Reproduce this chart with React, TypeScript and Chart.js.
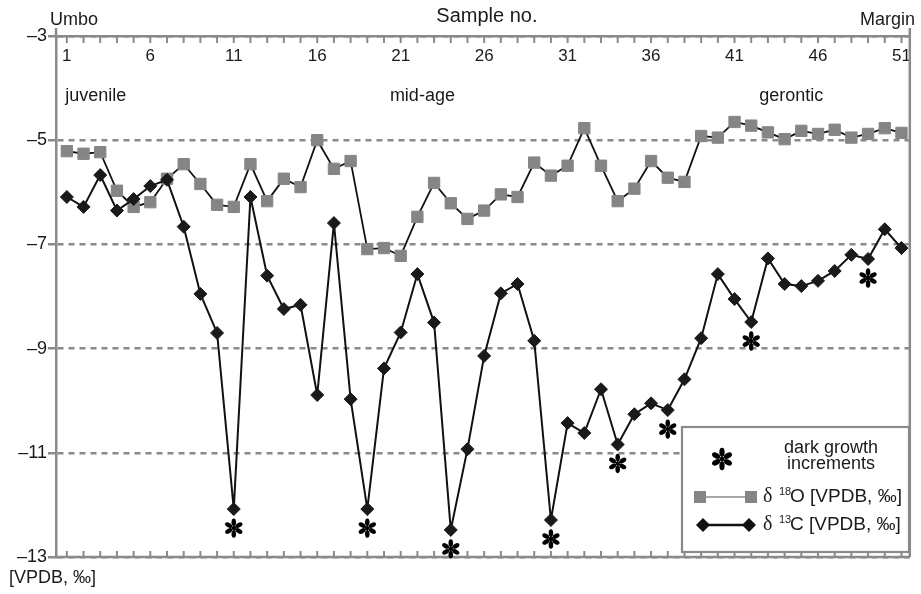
import React, { useEffect, useRef } from 'react';
import { Chart, registerables } from 'chart.js';
Chart.register(...registerables);

// ---------- data ----------
const samples = [1,2,3,4,5,6,7,8,9,10,11,12,13,14,15,16,17,18,19,20,21,22,23,24,25,26,27,28,29,30,31,32,33,34,35,36,37,38,39,40,41,42,43,44,45,46,47,48,49,50,51];
const d18O = [-5.21,-5.26,-5.23,-5.97,-6.28,-6.19,-5.74,-5.46,-5.84,-6.24,
  -6.28,-5.46,-6.17,-5.74,-5.90,-5.00,-5.55,-5.40,-7.09,-7.07,
  -7.22,-6.47,-5.82,-6.21,-6.51,-6.35,-6.04,-6.09,-5.43,-5.68,
  -5.49,-4.77,-5.49,-6.17,-5.93,-5.40,-5.72,-5.80,-4.92,-4.95,
  -4.65,-4.72,-4.85,-4.98,-4.82,-4.88,-4.80,-4.95,-4.88,-4.77,-4.86];
const d13C = [-6.09,-6.28,-5.67,-6.35,-6.13,-5.88,-5.76,-6.66,-7.95,-8.70,
  -12.08,-6.09,-7.60,-8.24,-8.16,-9.89,-6.59,-9.97,-12.08,-9.38,
  -8.69,-7.57,-8.50,-12.48,-10.93,-9.14,-7.94,-7.76,-8.85,-12.29,
  -10.43,-10.62,-9.78,-10.84,-10.26,-10.05,-10.18,-9.59,-8.80,-7.57,
  -8.05,-8.49,-7.27,-7.76,-7.80,-7.70,-7.51,-7.20,-7.28,-6.71,-7.07];
const darkIncrements = [11, 19, 24, 30, 34, 37, 42, 49];
const xTickLabels = [1, 6, 11, 16, 21, 26, 31, 36, 41, 46, 51];
const yTickValues = [-13, -11, -9, -7, -5, -3];
const phaseLabels = ['juvenile', 'mid-age', 'gerontic'];
const phaseSamples = [0.9, 22.3, 44.4];
const phaseAlign: CanvasTextAlign[] = ['left', 'center', 'center'];
const phaseValue = -4.15;
const xTitle = 'Sample no.';
const leftEndLabel = 'Umbo';
const rightEndLabel = 'Margin';
const yUnitLabel = '[VPDB, ‰]';
const legendAsteriskText = ['dark growth', 'increments'];
const legendSeries = [
  { sup: '18', el: 'O [VPDB, ‰]' },
  { sup: '13', el: 'C [VPDB, ‰]' },
];

const FONT = '"Liberation Sans", Arial, sans-serif';
const SERIF = '"Liberation Serif", "Times New Roman", serif';
const GRAY = '#8a8a8a';
const SQUARE = '#858585';
const TXT = '#1a1a1a';

function drawAsterisk(ctx: CanvasRenderingContext2D, cx: number, cy: number, L: number) {
  ctx.save();
  ctx.fillStyle = '#000';
  ctx.strokeStyle = '#000';
  ctx.lineWidth = 1.6;
  ctx.lineCap = 'round';
  for (let k = 0; k < 6; k++) {
    const a = -Math.PI / 2 + (k * Math.PI) / 3;
    const dx = Math.cos(a), dy = Math.sin(a);
    ctx.beginPath();
    ctx.moveTo(cx, cy);
    ctx.lineTo(cx + dx * L * 0.6, cy + dy * L * 0.6);
    ctx.stroke();
    ctx.beginPath();
    ctx.ellipse(cx + dx * L * 0.62, cy + dy * L * 0.62, L * 0.4, L * 0.24, a, 0, Math.PI * 2);
    ctx.fill();
  }
  ctx.beginPath();
  ctx.arc(cx, cy, 1.8, 0, Math.PI * 2);
  ctx.fill();
  ctx.restore();
}

const decor = {
  id: 'decor',
  afterDraw(chart: any) {
    const { ctx, chartArea } = chart;
    const xs = chart.scales.x;
    const ys = chart.scales.y;
    const { left, right, top, bottom } = chartArea;
    ctx.save();
    // frame
    ctx.strokeStyle = GRAY;
    ctx.lineWidth = 2.5;
    ctx.beginPath();
    ctx.moveTo(left, top - 8); ctx.lineTo(left, top);
    ctx.moveTo(right, top - 8); ctx.lineTo(right, bottom);
    ctx.moveTo(left, bottom); ctx.lineTo(right, bottom);
    ctx.stroke();
    // minor tick marks at each sample
    ctx.lineWidth = 2;
    ctx.beginPath();
    for (const s of samples) {
      const x = xs.getPixelForValue(s);
      ctx.moveTo(x, top); ctx.lineTo(x, top + 7);
      ctx.moveTo(x, bottom); ctx.lineTo(x, bottom - 6);
    }
    ctx.stroke();

    // texts
    ctx.fillStyle = TXT;
    ctx.textBaseline = 'middle';
    ctx.font = `18px ${FONT}`;
    ctx.textAlign = 'left';
    ctx.fillText(leftEndLabel, 50, 20);
    ctx.textAlign = 'right';
    ctx.fillText(rightEndLabel, 915, 20);
    ctx.textAlign = 'left';
    ctx.fillText(yUnitLabel, 9, 578);
    ctx.font = `20px ${FONT}`;
    ctx.textAlign = 'center';
    ctx.fillText(xTitle, (left + right) / 2 + 4, 16);

    ctx.font = `18px ${FONT}`;
    phaseLabels.forEach((t, i) => {
      ctx.textAlign = phaseAlign[i];
      ctx.fillText(t, xs.getPixelForValue(phaseSamples[i]), ys.getPixelForValue(phaseValue));
    });

    // asterisks under dark growth increments
    darkIncrements.forEach((s) => {
      const idx = samples.indexOf(s);
      const x = xs.getPixelForValue(s);
      const y = ys.getPixelForValue(d13C[idx]);
      drawAsterisk(ctx, x, y + 19, 9.5);
    });

    // legend box
    const bx = 682, by = 427, bw = 227, bh = 125;
    ctx.fillStyle = '#fff';
    ctx.fillRect(bx, by, bw, bh);
    ctx.strokeStyle = GRAY;
    ctx.lineWidth = 2.2;
    ctx.strokeRect(bx, by, bw, bh);
    drawAsterisk(ctx, 722, 459, 11);
    ctx.fillStyle = TXT;
    ctx.font = `18px ${FONT}`;
    ctx.textAlign = 'center';
    ctx.fillText(legendAsteriskText[0], 831, 448);
    ctx.fillText(legendAsteriskText[1], 831, 464);

    // series rows
    const rowY = [497, 525];
    // d18O row
    ctx.strokeStyle = GRAY;
    ctx.lineWidth = 1.6;
    ctx.beginPath(); ctx.moveTo(700, rowY[0]); ctx.lineTo(751, rowY[0]); ctx.stroke();
    ctx.fillStyle = SQUARE;
    ctx.fillRect(694, rowY[0] - 6, 12, 12);
    ctx.fillRect(745, rowY[0] - 6, 12, 12);
    // d13C row
    ctx.strokeStyle = '#111';
    ctx.lineWidth = 2.5;
    ctx.beginPath(); ctx.moveTo(703, rowY[1]); ctx.lineTo(749, rowY[1]); ctx.stroke();
    ctx.fillStyle = '#111';
    [703, 749].forEach((cx) => {
      ctx.beginPath();
      ctx.moveTo(cx - 7, rowY[1]); ctx.lineTo(cx, rowY[1] - 7); ctx.lineTo(cx + 7, rowY[1]); ctx.lineTo(cx, rowY[1] + 7);
      ctx.closePath(); ctx.fill();
    });
    legendSeries.forEach((r, i) => {
      const y = rowY[i];
      ctx.fillStyle = TXT;
      ctx.textAlign = 'left';
      ctx.font = `20px ${SERIF}`;
      ctx.fillText('δ', 763, y);
      ctx.font = `11px ${FONT}`;
      ctx.fillText(r.sup, 779, y - 5);
      ctx.font = `19px ${FONT}`;
      ctx.fillText(r.el, 790, y);
    });
    ctx.restore();
  },
};

export default function App() {
  const ref = useRef<HTMLCanvasElement>(null);
  useEffect(() => {
    const canvas = ref.current!;
    const chart = new Chart(canvas, {
      type: 'line',
      data: {
        datasets: [
          {
            label: 'δ13C',
            data: samples.map((s, i) => ({ x: s, y: d13C[i] })),
            borderColor: '#111',
            borderWidth: 2,
            pointStyle: 'rectRot',
            pointRadius: 6.5,
            pointBackgroundColor: '#1a1a1a',
            pointBorderColor: '#1a1a1a',
            pointBorderWidth: 1,
            order: 0,
            tension: 0,
          },
          {
            label: 'δ18O',
            data: samples.map((s, i) => ({ x: s, y: d18O[i] })),
            borderColor: '#111',
            borderWidth: 1.8,
            pointStyle: 'rect',
            pointRadius: 8,
            pointBackgroundColor: SQUARE,
            pointBorderColor: SQUARE,
            pointBorderWidth: 1,
            order: 1,
            tension: 0,
          },
        ],
      },
      options: {
        responsive: false,
        animation: false,
        devicePixelRatio: 1,
        events: [],
        layout: { padding: { left: 0, top: 0, right: 8, bottom: 37 } },
        plugins: { legend: { display: false }, tooltip: { enabled: false } },
        scales: {
          x: {
            type: 'linear',
            position: 'top',
            min: 0.35,
            max: 51.5,
            afterBuildTicks: (s: any) => { s.ticks = samples.map((v) => ({ value: v })); },
            afterFit: (s: any) => { s.height = 36; },
            grid: { display: false, drawTicks: false },
            border: { display: true, color: GRAY, width: 2.5 },
            ticks: {
              autoSkip: false,
              maxRotation: 0,
              minRotation: 0,
              mirror: true,
              padding: 10,
              color: TXT,
              font: { family: FONT, size: 17 },
              callback: (v: any) => (xTickLabels.includes(Number(v)) ? String(v) : ''),
            },
          },
          y: {
            type: 'linear',
            min: -13,
            max: -3,
            afterBuildTicks: (s: any) => { s.ticks = yTickValues.map((v) => ({ value: v })); },
            afterFit: (s: any) => { s.width = 56; },
            grid: { color: GRAY, lineWidth: 2.5, drawTicks: true, tickLength: 8, tickColor: GRAY, tickWidth: 2.5 },
            border: { display: true, color: GRAY, width: 2.5, dash: [6, 5] },
            ticks: {
              padding: 1,
              color: TXT,
              font: { family: FONT, size: 18 },
              callback: (v: any) => '–' + Math.abs(Number(v)),
            },
          },
        },
      },
      plugins: [decor],
    } as any);
    return () => chart.destroy();
  }, []);
  return (
    <>
      <style>{'body{margin:0;background:#fff}'}</style>
      <canvas ref={ref} width={921} height={594} style={{ display: 'block', width: 921, height: 594 }} />
    </>
  );
}
